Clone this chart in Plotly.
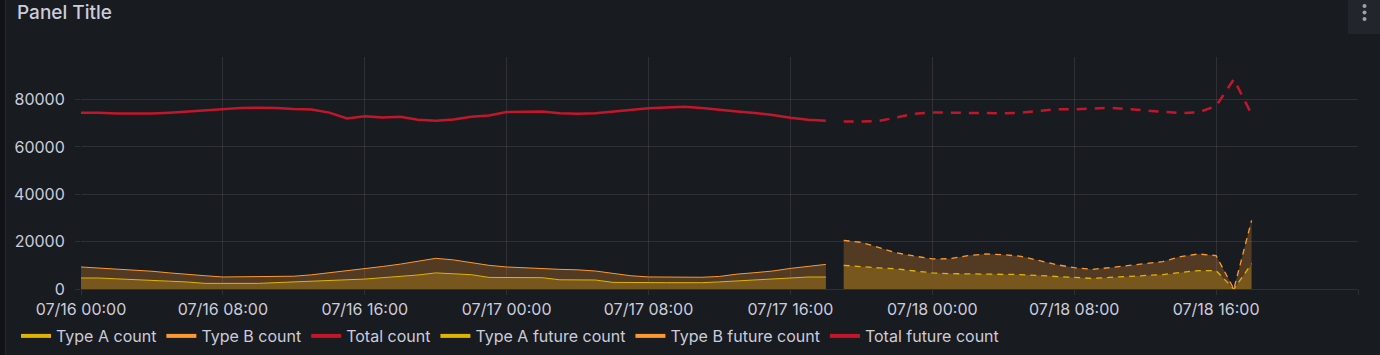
import pandas as pd
import plotly.graph_objects as go

# ---------------- data ----------------
start = pd.Timestamp("2024-07-16 00:00")
actual_hours = list(range(0, 43))
future_hours = list(range(43, 67))
actual_time = [start + pd.Timedelta(hours=h) for h in actual_hours]
future_time = [start + pd.Timedelta(hours=h) for h in future_hours]

type_a = [4650, 4650, 4300, 4070, 3650, 3300, 2960, 2370, 2370, 2370,
          2370, 2700, 2960, 3380, 3380, 3940, 4200, 4780, 5300, 5920,
          6800, 6300, 6050, 4900, 4780, 4780, 4780, 3900, 3800, 3800,
          2800, 2670, 2670, 2670, 2670, 2670, 3000, 3380, 3700, 4070,
          4600, 5070, 5070]
type_b = [4650, 4250, 4200, 3930, 3850, 3500, 3140, 3230, 2710, 2710,
          2710, 2380, 2440, 2620, 3420, 3660, 4300, 4720, 5200, 5880,
          6150, 6000, 5150, 5100, 4520, 4120, 3720, 4400, 4300, 3800,
          3800, 2930, 2430, 2280, 2280, 2280, 2300, 2920, 3200, 3530,
          4100, 4530, 5330]
total = [74500, 74500, 74100, 74100, 74100, 74500, 75000, 75500, 76000, 76500,
         76600, 76500, 76000, 75800, 74500, 72000, 73000, 72400, 72800, 71500,
         71100, 71600, 72800, 73300, 74800, 75000, 75000, 74200, 74000, 74200,
         75000, 75600, 76300, 76700, 77000, 76500, 75600, 75000, 74300, 73500,
         72300, 71500, 71100]

type_a_future = [10000, 9300, 8900, 8500, 7600, 6800, 6500, 6300, 6200, 6200,
                 6100, 5700, 5300, 4900, 4500, 4900, 5300, 5700, 6100, 7000,
                 7800, 7750, 0, 10700]
type_b_future = [10570, 10400, 8600, 6740, 6300, 5900, 6300, 7800, 8600, 8300,
                 7700, 6300, 5000, 4100, 3800, 4100, 4600, 5000, 5500, 6700,
                 7000, 6350, 0, 18300]
total_future = [70800, 70700, 71000, 72500, 74000, 74600, 74500, 74200, 74200, 74200,
                74500, 75200, 75900, 75900, 76300, 76500, 76000, 75400, 74800, 74300,
                74600, 77300, 88600, 73800]

series_names = ["Type A count", "Type B count", "Total count",
                "Type A future count", "Type B future count", "Total future count"]
tick_labels_fmt = "%m/%d %H:%M"

# ---------------- style ----------------
BG = "#181b1f"
TXT = "#ccccdc"
GRID = "rgba(204,204,220,0.12)"
YEL = "#E0B400"
ORA = "#FF9830"
RED = "#C4162A"
FILL_A = "#77571D"
FILL_B = "rgba(255,152,48,0.25)"

W, H = 1380, 355
ML, MR, MT, MB = 81, 22, 57, 66
PW, PH = W - ML - MR, H - MT - MB


def px(x):
    return (x - ML) / PW


def py(y):
    return (H - MB - y) / PH


fig = go.Figure()

# actual stacked
fig.add_trace(go.Scatter(x=actual_time, y=type_a, name=series_names[0], mode="lines",
                         stackgroup="actual", line=dict(color=YEL, width=1),
                         fillcolor=FILL_A, showlegend=False))
fig.add_trace(go.Scatter(x=actual_time, y=type_b, name=series_names[1], mode="lines",
                         stackgroup="actual", line=dict(color=ORA, width=1),
                         fillcolor=FILL_B, showlegend=False))
fig.add_trace(go.Scatter(x=actual_time, y=total, name=series_names[2], mode="lines",
                         line=dict(color=RED, width=2.5), showlegend=False))
# future stacked
fig.add_trace(go.Scatter(x=future_time, y=type_a_future, name=series_names[3], mode="lines",
                         stackgroup="future", line=dict(color=YEL, width=1.3, dash="6px,5px"),
                         fillcolor=FILL_A, showlegend=False))
fig.add_trace(go.Scatter(x=future_time, y=type_b_future, name=series_names[4], mode="lines",
                         stackgroup="future", line=dict(color=ORA, width=1.3, dash="6px,5px"),
                         fillcolor=FILL_B, showlegend=False))
fig.add_trace(go.Scatter(x=future_time, y=total_future, name=series_names[5], mode="lines",
                         line=dict(color=RED, width=2.5, dash="10px,8px"), showlegend=False))

# legend entries
for name, col in zip(series_names, [YEL, ORA, RED, YEL, ORA, RED]):
    fig.add_trace(go.Scatter(x=[None], y=[None], mode="lines", name=name,
                             line=dict(color=col, width=4), showlegend=True))

fig.update_layout(
    width=W, height=H,
    margin=dict(l=ML, r=MR, t=MT, b=MB, autoexpand=False),
    paper_bgcolor=BG, plot_bgcolor=BG,
    font=dict(family="Inter", color=TXT, size=16),
    showlegend=True,
    legend=dict(orientation="h", x=px(16), xanchor="left", y=py(336), yanchor="middle",
                font=dict(size=16, color=TXT), itemwidth=30, bgcolor="rgba(0,0,0,0)",
                traceorder="normal"),
    xaxis=dict(type="date", range=[start, start + pd.Timedelta(hours=72)],
               tick0=start, dtick=8 * 3600 * 1000, tickformat=tick_labels_fmt,
               showgrid=True, gridcolor=GRID, gridwidth=1, ticks="outside", ticklen=5,
               tickcolor=GRID, showline=False, zeroline=False,
               tickfont=dict(size=16, color=TXT), ticklabelstandoff=1),
    yaxis=dict(range=[0, 98000], tick0=0, dtick=20000, tickformat="d",
               showgrid=True, gridcolor=GRID, gridwidth=1, ticks="outside", ticklen=5,
               tickcolor=GRID, zeroline=True, zerolinecolor=GRID, zerolinewidth=1,
               showline=False, tickfont=dict(size=16, color=TXT), ticklabelstandoff=7),
    hovermode=False,
)

# panel chrome: title, left edge strip, menu box
fig.add_annotation(text="Panel Title", xref="paper", yref="paper", x=px(15), y=py(12),
                   xanchor="left", yanchor="middle", showarrow=False,
                   font=dict(size=19, color=TXT, weight=500))
fig.add_shape(type="rect", xref="paper", yref="paper", x0=px(0), x1=px(5), y0=py(H), y1=py(0),
              fillcolor="#111217", line=dict(width=0), layer="below")
fig.add_shape(type="line", xref="paper", yref="paper", x0=px(5.5), x1=px(5.5), y0=py(H), y1=py(0),
              line=dict(color="#24272d", width=1))
fig.add_shape(type="rect", xref="paper", yref="paper", x0=px(1348), x1=px(1381), y0=py(34), y1=py(-1),
              fillcolor="#22252b", line=dict(width=0))
for dy in (6, 12.5, 19):
    fig.add_shape(type="circle", xref="paper", yref="paper",
                  x0=px(1362.5), x1=px(1366.5), y0=py(dy + 2), y1=py(dy - 2),
                  fillcolor="#9fa1a9", line=dict(width=0))

fig.write_html("out.html")
